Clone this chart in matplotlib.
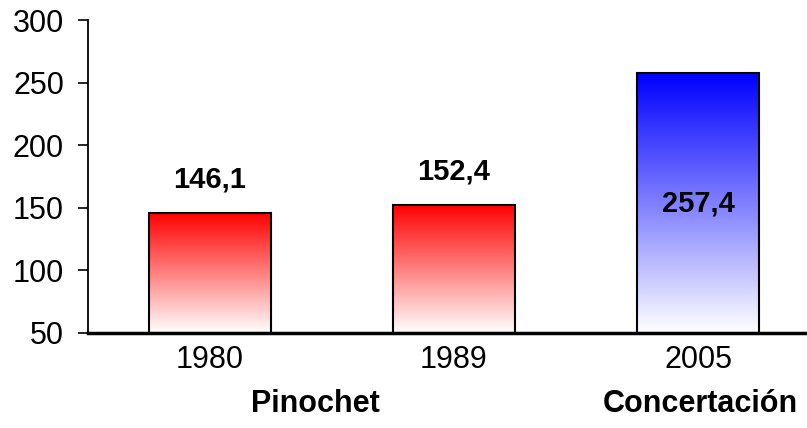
import matplotlib
matplotlib.use("Agg")
import matplotlib.pyplot as plt
import numpy as np
from matplotlib.colors import LinearSegmentedColormap

# data
years = ["1980", "1989", "2005"]
values = [146.1, 152.4, 257.4]
value_labels = ["146,1", "152,4", "257,4"]
bar_colors = ["#ff0000", "#ff0000", "#0000ff"]
groups = ["Pinochet", "Concertación"]
group_pos = [0.43, 2.01]

plt.rcParams['font.family'] = ['Liberation Sans', 'DejaVu Sans']

fig = plt.figure(figsize=(8.07, 4.28), dpi=100)
ax = fig.add_axes([88/807, 1 - 333/428, 732/807, 313/428])

ymin = 50
width = 0.5
grad = np.linspace(0, 1, 256).reshape(-1, 1)
for i, (v, c) in enumerate(zip(values, bar_colors)):
    cmap = LinearSegmentedColormap.from_list("g%d" % i, ["white", c])
    ax.imshow(grad, cmap=cmap, origin="lower", aspect="auto",
              extent=[i - width/2, i + width/2, ymin, v], zorder=1)
    ax.bar(i, v - ymin, bottom=ymin, width=width, facecolor="none",
           edgecolor="black", linewidth=1.5, zorder=2)

# value labels: first two above the bar, last one inside
for i, (v, lab) in enumerate(zip(values, value_labels)):
    if i < 2:
        ax.annotate(lab, (i, v), xytext=(0, 24), textcoords="offset points",
                    ha="center", va="center", fontsize=21, fontweight="bold")
    else:
        ax.text(i, (v + ymin) / 2, lab, ha="center", va="center",
                fontsize=21, fontweight="bold", zorder=3)

for g, x in zip(groups, group_pos):
    ax.text(x, -0.227, g, transform=ax.get_xaxis_transform(), ha="center",
            va="center", fontsize=22, fontweight="bold")

ax.set_xlim(-0.5, 2.5)
ax.set_ylim(ymin, 300)
ax.set_xticks(range(len(years)))
ax.set_xticklabels(years)
ax.set_yticks(np.arange(50, 301, 50))
ax.tick_params(axis="x", length=0, pad=9, labelsize=22)
ax.tick_params(axis="y", length=7.2, width=1.2, pad=10, labelsize=22)
for s in ["top", "right"]:
    ax.spines[s].set_visible(False)
ax.spines["left"].set_linewidth(1.3)
ax.spines["bottom"].set_linewidth(2.5)
ax.spines["bottom"].set_zorder(4)

fig.savefig("out.png", dpi=100)
